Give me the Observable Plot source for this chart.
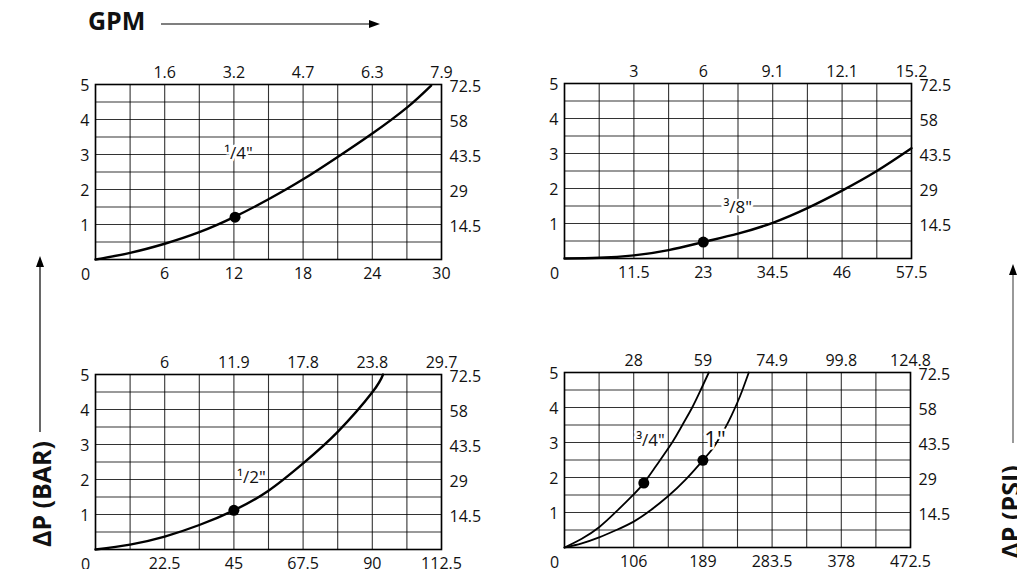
<!DOCTYPE html>
<html>
<head>
<meta charset="utf-8">
<script src="https://cdn.jsdelivr.net/npm/d3@7"></script>
<script src="https://cdn.jsdelivr.net/npm/@observablehq/plot@0.6"></script>
<style>
  html, body { margin: 0; padding: 0; background: #fff; }
  #chart { position: relative; width: 1017px; height: 569px; overflow: hidden; background: #fff; font-family: 'Open Sans', sans-serif; color: #111; }
  .panel { position: absolute; }
  .panel svg { overflow: visible; }
  .big { position: absolute; font-weight: 700; font-size: 25px; line-height: 1; white-space: nowrap; }
  #deco { position: absolute; left: 0; top: 0; }
</style>
</head>
<body>
<div id="chart">
  <div class="big" id="gpm" style="left:88px; top:8px;">GPM</div>
  <div class="big" id="barlab" style="left:41px; top:494px; transform: translate(-50%,-50%) rotate(-90deg);">ΔP (BAR)</div>
  <div class="big" id="psilab" style="left:1010px; top:512px; transform: translate(-50%,-50%) rotate(-90deg);">ΔP (PSI)</div>
  <svg id="deco" width="1017" height="569">
    <line x1="161" y1="24" x2="372" y2="24" stroke="#000" stroke-width="1.2"/>
    <path d="M380,24 L369,20 L369,28 Z" fill="#000"/>
    <line x1="40" y1="264" x2="40" y2="432" stroke="#000" stroke-width="1.2"/>
    <path d="M40,256 L36,267 L44,267 Z" fill="#000"/>
    <line x1="1013" y1="272" x2="1013" y2="443" stroke="#555" stroke-width="1.2"/>
    <path d="M1013,264 L1009,275 L1017,275 Z" fill="#000"/>
  </svg>
</div>
<script>
// ---- shared axis values ----
const barTicks = [1, 2, 3, 4, 5];
const psiLabels = ["14.5", "29", "43.5", "58", "72.5"];

// ---- 1/4" panel ----
const q14Lpm = [0, 3, 6, 9, 12, 15, 18, 21, 24, 27, 29.1];
const q14Bar = [0, 0.19, 0.45, 0.78, 1.21, 1.72, 2.29, 2.93, 3.60, 4.34, 4.97];
const q14LpmLabels = ["6", "12", "18", "24", "30"];
const q14GpmLabels = ["1.6", "3.2", "4.7", "6.3", "7.9"];
const q14Dot = [12.1, 1.21];

// ---- 3/8" panel ----
const q38Lpm = [0, 5.75, 11.5, 17.25, 23, 28.75, 34.5, 40.25, 46, 51.75, 57.5];
const q38Bar = [0, 0.02, 0.09, 0.24, 0.47, 0.71, 1.02, 1.44, 1.94, 2.5, 3.15];
const q38LpmLabels = ["11.5", "23", "34.5", "46", "57.5"];
const q38GpmLabels = ["3", "6", "9.1", "12.1", "15.2"];
const q38Dot = [23, 0.47];

// ---- 1/2" panel ----
const q12Lpm = [0, 11.25, 22.5, 33.75, 45, 56.25, 67.5, 78.75, 90, 93.5];
const q12Bar = [0, 0.14, 0.37, 0.70, 1.12, 1.68, 2.46, 3.36, 4.49, 5.0];
const q12LpmLabels = ["22.5", "45", "67.5", "90", "112.5"];
const q12GpmLabels = ["6", "11.9", "17.8", "23.8", "29.7"];
const q12Dot = [45, 1.12];

// ---- 3/4" and 1" panel ----
const q34Lpm = [0, 23.6, 47.25, 70.9, 94.5, 108.3, 125, 147, 161, 174.4, 186, 197.1];
const q34Bar = [0, 0.25, 0.58, 1.03, 1.52, 1.84, 2.33, 3.0, 3.5, 4.0, 4.5, 5.0];
const q1Lpm = [0, 23.6, 47.25, 70.9, 94.5, 118, 141.75, 165, 189, 204, 212, 220, 228, 236.25, 243, 251.7];
const q1Bar = [0, 0.12, 0.29, 0.5, 0.74, 1.07, 1.47, 1.93, 2.49, 2.87, 3.15, 3.44, 3.77, 4.15, 4.5, 5.0];
const bigLpmLabels = ["106", "189", "283.5", "378", "472.5"];
const bigGpmLabels = ["28", "59", "74.9", "99.8", "124.8"];
const q34Dot = [108.3, 1.84];
const q1Dot = [189, 2.49];

// ---- size labels ----
const sizeNames = ["¹/4\"", "³/8\"", "¹/2\"", "³/4\"", "1\""];
const sizeLabelX = [12.4, 28.7, 50.7, 117.4, 205.5];
const sizeLabelY = [3.03, 1.45, 2.06, 3.07, 3.08];

function series(xs, ys, s) { return xs.map((x, i) => ({x, y: ys[i], s})); }

function panel(cfg) {
  const tickPos = [1, 2, 3, 4, 5].map(k => cfg.xmax * k / 5);
  const gridXs = d3.range(0, 11).map(i => cfg.xmax * i / 10);
  const gridYs = d3.range(0, 11).map(i => i * 0.5);
  const fs = 16;
  const svg = Plot.plot({
    width: cfg.width, height: cfg.height,
    marginLeft: cfg.ml, marginRight: cfg.mr, marginTop: cfg.mt, marginBottom: cfg.mb,
    x: {domain: [0, cfg.xmax]},
    y: {domain: [0, 5]},
    style: {fontFamily: "'Open Sans', sans-serif", fontSize: "16px", background: "none", color: "#111", overflow: "visible"},
    marks: [
      Plot.gridX(gridXs, {stroke: "#000", strokeOpacity: 0.8, strokeWidth: 1.1}),
      Plot.gridY(gridYs, {stroke: "#000", strokeOpacity: 0.8, strokeWidth: 1.1}),
      Plot.frame({stroke: "#000", strokeWidth: 1.6}),
      Plot.axisX(tickPos, {anchor: "bottom", tickSize: 0, tickPadding: 8, label: null, fontSize: fs,
        tickFormat: d => cfg.lpmLabels[tickPos.indexOf(d)]}),
      Plot.axisX(tickPos, {anchor: "top", tickSize: 0, tickPadding: 7, label: null, fontSize: fs,
        tickFormat: d => cfg.gpmLabels[tickPos.indexOf(d)]}),
      Plot.axisY(barTicks, {anchor: "left", tickSize: 0, tickPadding: 6, label: null, fontSize: fs, dy: 1,
        tickFormat: d => String(d)}),
      Plot.axisY(barTicks, {anchor: "right", tickSize: 0, tickPadding: 8, label: null, fontSize: fs, dy: 2,
        tickFormat: d => psiLabels[barTicks.indexOf(d)]}),
      Plot.text(["0"], {x: () => 0, y: () => 0, text: d => d, dx: -10, dy: 15, fill: "#111", fontSize: fs}),
      Plot.line(cfg.curves, {x: "x", y: "y", z: "s", curve: "natural", stroke: "#000", strokeWidth: cfg.sw}),
      Plot.text(cfg.labels, {x: "x", y: "y", text: "t", fontSize: "fs", fill: "#111", stroke: "white", strokeWidth: 5}),
      Plot.dot(cfg.dots, {x: "x", y: "y", r: 5.5, fill: "#000", stroke: null})
    ]
  });
  const div = document.createElement("div");
  div.className = "panel";
  div.style.left = cfg.left + "px";
  div.style.top = cfg.top + "px";
  div.appendChild(svg);
  document.getElementById("chart").appendChild(div);
}

panel({
  left: 0, top: 40, width: 500, height: 260, ml: 95, mr: 59, mt: 44, mb: 41, xmax: 30, sw: 2.4,
  lpmLabels: q14LpmLabels, gpmLabels: q14GpmLabels,
  curves: series(q14Lpm, q14Bar, "q14"),
  dots: [{x: q14Dot[0], y: q14Dot[1]}],
  labels: [{x: sizeLabelX[0], y: sizeLabelY[0], t: sizeNames[0], fs: 17}]
});
panel({
  left: 500, top: 40, width: 500, height: 260, ml: 64, mr: 89, mt: 43, mb: 42, xmax: 57.5, sw: 2.4,
  lpmLabels: q38LpmLabels, gpmLabels: q38GpmLabels,
  curves: series(q38Lpm, q38Bar, "q38"),
  dots: [{x: q38Dot[0], y: q38Dot[1]}],
  labels: [{x: sizeLabelX[1], y: sizeLabelY[1], t: sizeNames[1], fs: 17}]
});
panel({
  left: 0, top: 330, width: 500, height: 260, ml: 95, mr: 59, mt: 44, mb: 41, xmax: 112.5, sw: 2.4,
  lpmLabels: q12LpmLabels, gpmLabels: q12GpmLabels,
  curves: series(q12Lpm, q12Bar, "q12"),
  dots: [{x: q12Dot[0], y: q12Dot[1]}],
  labels: [{x: sizeLabelX[2], y: sizeLabelY[2], t: sizeNames[2], fs: 17}]
});
panel({
  left: 500, top: 330, width: 500, height: 260, ml: 64, mr: 90, mt: 42, mb: 43, xmax: 472.5, sw: 1.8,
  lpmLabels: bigLpmLabels, gpmLabels: bigGpmLabels,
  curves: series(q34Lpm, q34Bar, "q34").concat(series(q1Lpm, q1Bar, "q1")),
  dots: [{x: q34Dot[0], y: q34Dot[1]}, {x: q1Dot[0], y: q1Dot[1]}],
  labels: [
    {x: sizeLabelX[3], y: sizeLabelY[3], t: sizeNames[3], fs: 17},
    {x: sizeLabelX[4], y: sizeLabelY[4], t: sizeNames[4], fs: 22}
  ]
});
</script>
</body>
</html>
